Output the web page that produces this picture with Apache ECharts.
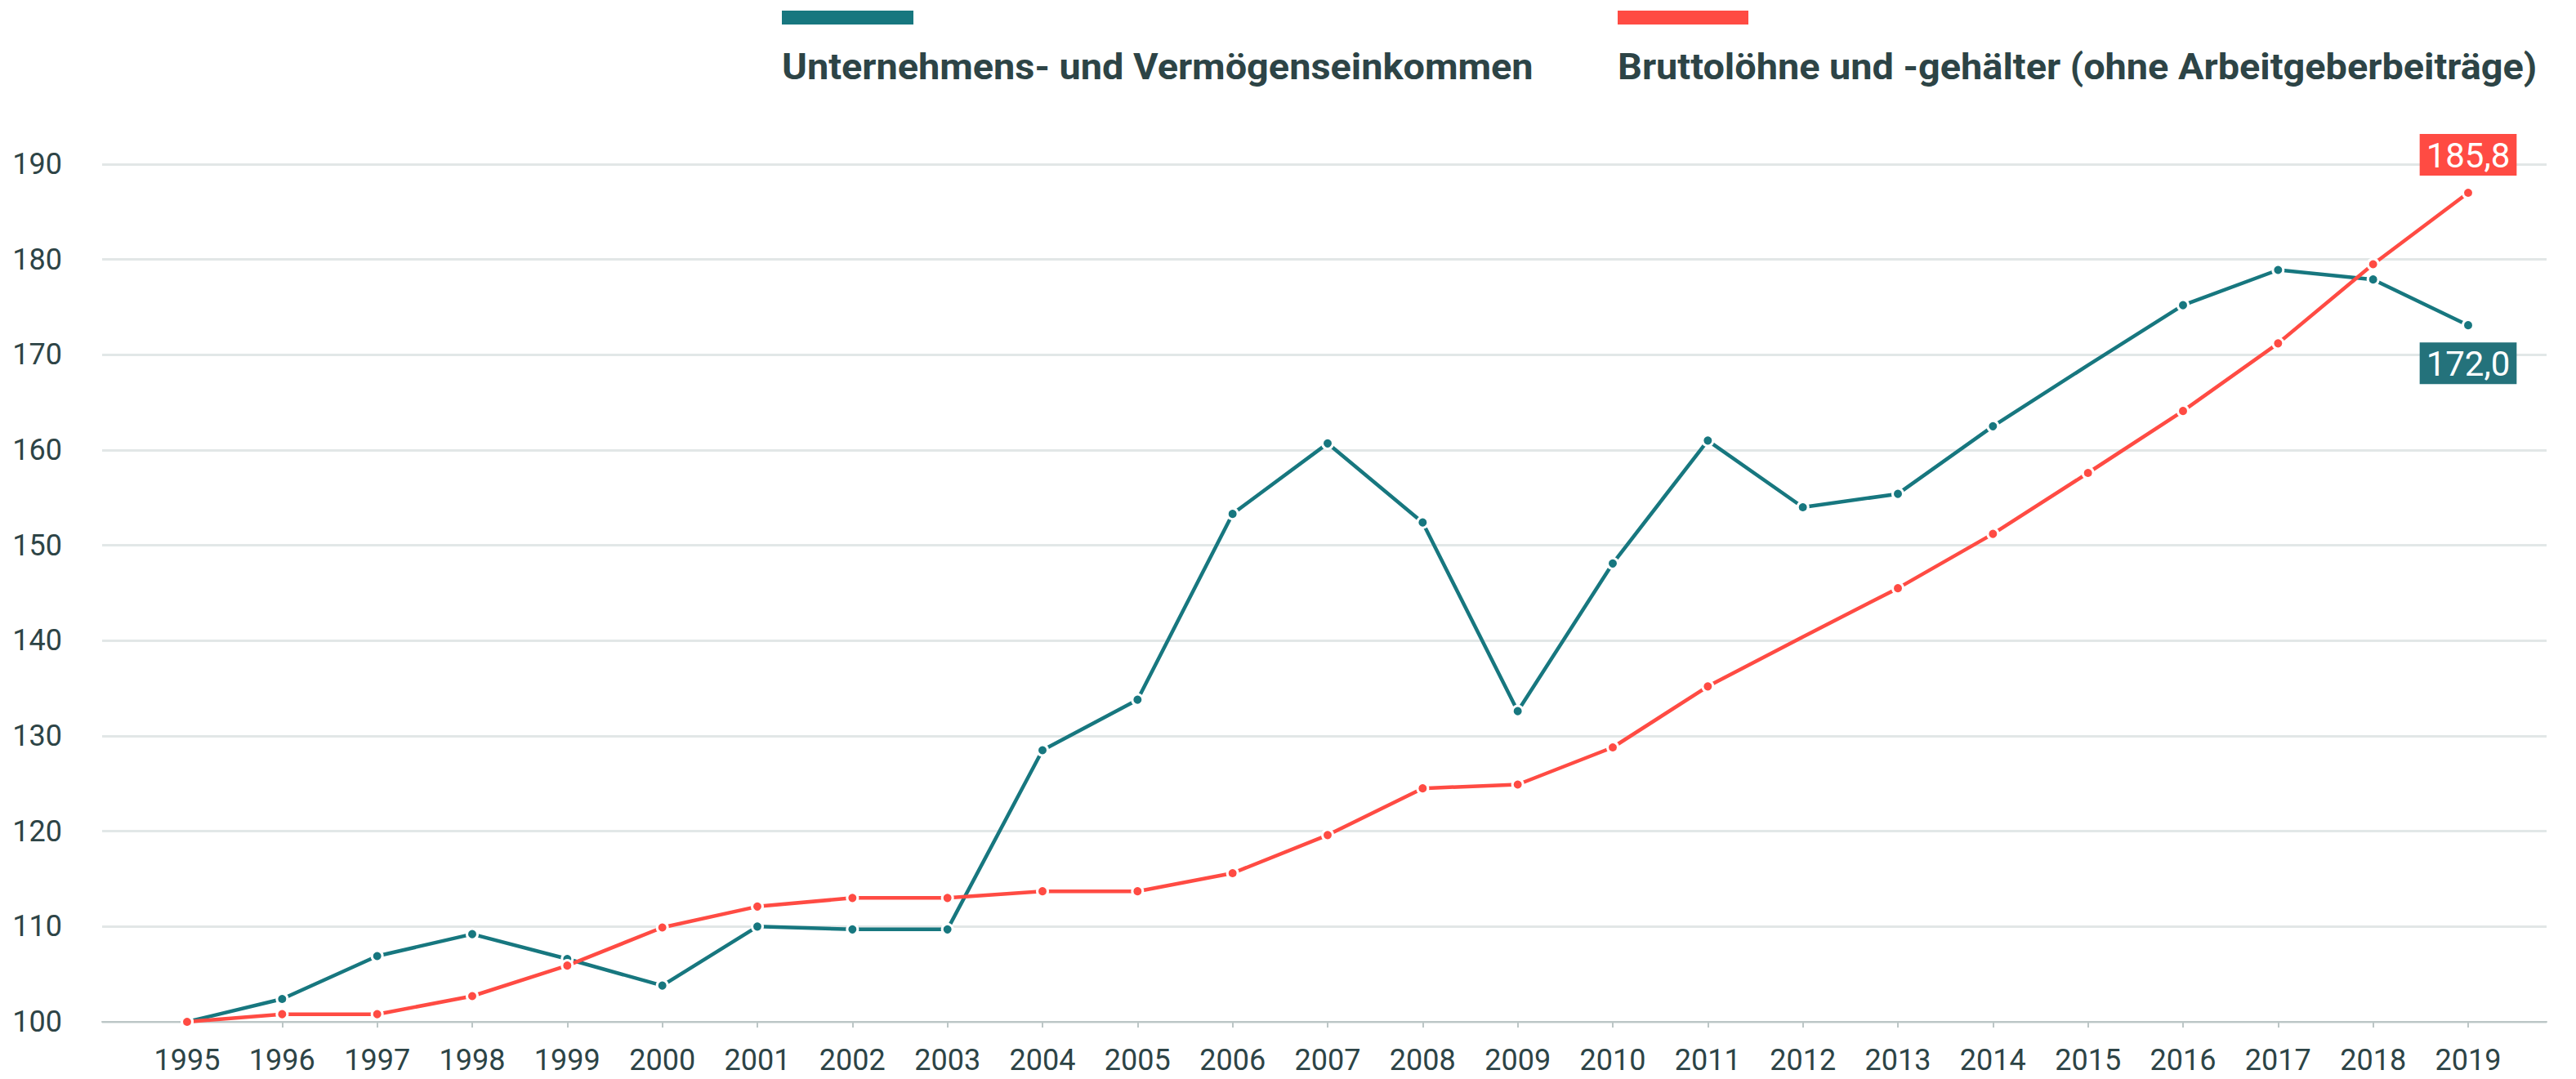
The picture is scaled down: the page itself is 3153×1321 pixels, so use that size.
<!DOCTYPE html>
<html>
<head>
<meta charset="utf-8">
<script src="https://cdn.jsdelivr.net/npm/echarts@6/dist/echarts.min.js"></script>
<style>
html, body { margin: 0; padding: 0; background: #fff; }
#chart { width: 3153px; height: 1321px; }
</style>
</head>
<body>
<div id="chart"></div>
<script>
// Daten
var years = ['1995','1996','1997','1998','1999','2000','2001','2002','2003','2004','2005','2006','2007','2008','2009','2010','2011','2012','2013','2014','2015','2016','2017','2018','2019'];
var unternehmen = [100.0, 102.4, 106.9, 109.2, 106.6, 103.8, 110.0, 109.7, 109.7, 128.5, 133.8, 153.3, 160.7, 152.4, 132.6, 148.1, 161.0, 154.0, 155.4, 162.5, 168.9, 175.2, 178.9, 177.9, 173.1];
var brutto = [100.0, 100.8, 100.8, 102.7, 105.9, 109.9, 112.1, 113.0, 113.0, 113.7, 113.7, 115.6, 119.6, 124.5, 124.9, 128.8, 135.2, 140.4, 145.5, 151.2, 157.6, 164.1, 171.2, 179.5, 187.0];
var yTicks = [100, 110, 120, 130, 140, 150, 160, 170, 180, 190];
var seriesNames = ['Unternehmens- und Vermögenseinkommen', 'Bruttolöhne und -gehälter (ohne Arbeitgeberbeiträge)'];
var endLabels = ['172,0', '185,8'];
var unternehmenNoMarker = ['2015'];
var bruttoNoMarker = ['2012'];

var TEAL = '#17777f';
var TEAL_LABEL = '#24727b';
var RED = '#ff4b43';
var TEXT = '#2d4446';
var FONT = 'Roboto';

// Datenpunkte mit Endbeschriftung aufbauen
function buildData(values, noMarker, endText, labelBg, pos){
	var data = [];
	for(var i=0; i<values.length; i++){
		var item = {value: values[i]};
		if(noMarker.indexOf(years[i]) > -1) item.symbolSize = 0;
		if(i == values.length - 1){
			item.label = {
				show: true,
				position: pos,
				distance: 13,
				formatter: endText,
				color: '#fff',
				fontFamily: FONT,
				fontSize: 42,
				lineHeight: 44,
				backgroundColor: labelBg,
				padding: [4, 8, 3, 8]
			};
		}
		data.push(item);
	}
	return data;
}

function lineSeries(name, values, color, noMarker, endText, labelBg, pos){
	return {
		name: name,
		type: 'line',
		xAxisIndex: 1,
		yAxisIndex: 1,
		data: buildData(values, noMarker, endText, labelBg, pos),
		symbol: 'circle',
		symbolSize: 13,
		showAllSymbol: true,
		lineStyle: {color: color, width: 4.5},
		itemStyle: {color: color, borderColor: '#fff', borderWidth: 3},
		emphasis: {disabled: true},
		z: 3
	};
}

// Legendeneintrag: Farbbalken über dem Text (Text leicht gesperrt)
function legendItem(x, barWidth, color, text){
	return [
		{type: 'rect', left: x, top: 13, shape: {width: barWidth, height: 17}, style: {fill: color}},
		{type: 'text', x: x, y: 60, scaleX: 1.065, style: {text: text, fill: TEXT, font: 'bold 44px Roboto'}}
	];
}

var myChart = echarts.init(document.getElementById('chart'), null, {renderer: 'svg'});

myChart.setOption({
	animation: false,
	backgroundColor: '#fff',
	textStyle: {fontFamily: FONT},
	grid: [
		{left: 125, right: 36, top: 201, bottom: 70},
		{left: 229, right: 132, top: 201, bottom: 70}
	],
	xAxis: [
		{
			gridIndex: 0, type: 'value', min: 0, max: 1,
			axisLine: {show: true, onZero: false, lineStyle: {color: '#bcc6c6', width: 2}},
			axisTick: {show: false}, axisLabel: {show: false}, splitLine: {show: false}
		},
		{
			gridIndex: 1, type: 'category', data: years, boundaryGap: false,
			axisLine: {show: true, lineStyle: {color: '#bcc6c6', width: 2}},
			axisTick: {show: true, length: 7, lineStyle: {color: '#bcc6c6', width: 2}},
			axisLabel: {color: TEXT, fontSize: 36, lineHeight: 30, margin: 32, fontFamily: FONT, interval: 0},
			splitLine: {show: false}
		}
	],
	yAxis: [
		{
			gridIndex: 0, type: 'value', min: yTicks[0], max: yTicks[yTicks.length - 1], interval: 10,
			axisLine: {show: false}, axisTick: {show: false},
			axisLabel: {color: TEXT, fontSize: 36, margin: 49, fontFamily: FONT},
			splitLine: {show: true, lineStyle: {color: '#e2e7e7', width: 3}}
		},
		{
			gridIndex: 1, type: 'value', min: yTicks[0], max: yTicks[yTicks.length - 1], interval: 10,
			show: false, splitLine: {show: false}
		}
	],
	graphic: legendItem(957, 161, TEAL, seriesNames[0]).concat(legendItem(1980, 160, RED, seriesNames[1])),
	series: [
		lineSeries(seriesNames[0], unternehmen, TEAL, unternehmenNoMarker, endLabels[0], TEAL_LABEL, 'bottom'),
		lineSeries(seriesNames[1], brutto, RED, bruttoNoMarker, endLabels[1], RED, 'top')
	]
});
</script>
</body>
</html>
